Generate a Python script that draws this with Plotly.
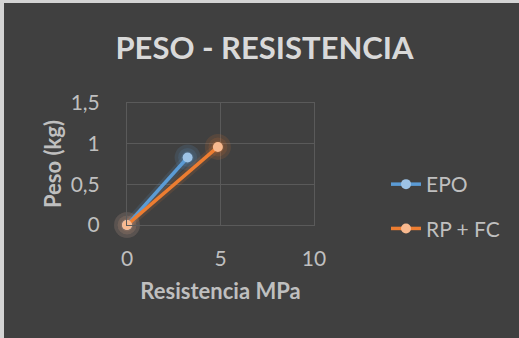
import plotly.graph_objects as go

# ---- data ----
series_names = ["EPO", "RP + FC"]
epo_x = [0, 3.24]
epo_y = [0, 0.83]
rpfc_x = [0, 4.86]
rpfc_y = [0, 0.96]

x_ticks = [0, 5, 10]
y_ticks = [0, 0.5, 1, 1.5]

title_text = "PESO - RESISTENCIA"
x_title = "Resistencia MPa"
y_title = "Peso (kg)"

# ---- layout geometry ----
W, H = 519, 338
L, R, T, B = 127, 205, 103, 113
PW, PH = W - L - R, H - T - B

def px_x(p):
    return (p - L) / PW

def px_y(p):
    return 1 - (p - T) / PH

BG = "#404040"
GRID = "#5a5a5a"
TXT = "#bfbfbf"
FONT = "Lato"

series = [
    (series_names[0], epo_x, epo_y, "#5b9bd5", "#9dc3e6", "rgba(91,155,213,0.14)"),
    (series_names[1], rpfc_x, rpfc_y, "#ed7d31", "#f8b98f", "rgba(237,125,49,0.13)"),
]

fig = go.Figure()

# soft glow (effect only, same data)
for name, xs, ys, lc, mc, glow in series:
    for sz in (26, 19, 13):
        fig.add_trace(go.Scatter(
            x=xs, y=ys, mode="markers", showlegend=False, hoverinfo="skip",
            marker=dict(size=sz, color=glow, line=dict(width=0)),
            cliponaxis=False,
        ))
    fig.add_trace(go.Scatter(
        x=xs, y=ys, mode="lines", showlegend=False, hoverinfo="skip",
        line=dict(color=glow, width=9), cliponaxis=False,
    ))

for name, xs, ys, lc, mc, glow in series:
    fig.add_trace(go.Scatter(
        x=xs, y=ys, mode="lines+markers", name=name, legendgroup=name,
        line=dict(color=lc, width=3.5),
        marker=dict(size=10, color=mc, line=dict(width=0)),
        cliponaxis=False,
    ))

fig.update_layout(
    width=W, height=H,
    margin=dict(l=L, r=R, t=T, b=B, pad=0),
    paper_bgcolor="#d4d4d4",
    plot_bgcolor=BG,
    separators=",.",
    font=dict(family=FONT, color=TXT, size=21),
    title=dict(
        text="<b>" + title_text + "</b>",
        font=dict(family=FONT, size=31, color="#d9d9d9"),
        x=264.5 / W, xref="container", xanchor="center",
        y=1 - 48 / H, yref="container", yanchor="middle",
    ),
    showlegend=True,
    legend=dict(
        x=px_x(386), xanchor="left",
        y=px_y(206.5), yanchor="middle",
        bgcolor="rgba(0,0,0,0)",
        font=dict(family=FONT, size=21, color=TXT),
        traceorder="grouped", tracegroupgap=14,
        itemwidth=30,
    ),
    shapes=[
        dict(type="rect", xref="paper", yref="paper", layer="below",
             x0=px_x(4), x1=px_x(W + 5), y0=px_y(3), y1=px_y(H + 5),
             fillcolor=BG, line=dict(width=0)),
    ],
)

fig.update_xaxes(
    range=[0, 10], tickvals=x_ticks, showgrid=True, gridcolor=GRID, gridwidth=1,
    zeroline=False, showline=True, mirror=True, linecolor=GRID, linewidth=1,
    ticks="outside", ticklen=15, tickcolor="rgba(0,0,0,0)",
    tickfont=dict(family=FONT, size=21, color=TXT),
    title=dict(text="<b>" + x_title + "</b>", standoff=14,
               font=dict(family=FONT, size=22, color=TXT)),
    fixedrange=True,
)
fig.update_yaxes(
    range=[0, 1.5], tickvals=y_ticks, showgrid=True, gridcolor=GRID, gridwidth=1,
    zeroline=False, showline=True, mirror=True, linecolor=GRID, linewidth=1,
    ticks="outside", ticklen=22, tickcolor="rgba(0,0,0,0)",
    tickfont=dict(family=FONT, size=21, color=TXT),
    title=dict(text="<b>" + y_title + "</b>", standoff=2,
               font=dict(family=FONT, size=22, color=TXT)),
    fixedrange=True,
)

fig.write_html("out.html")
